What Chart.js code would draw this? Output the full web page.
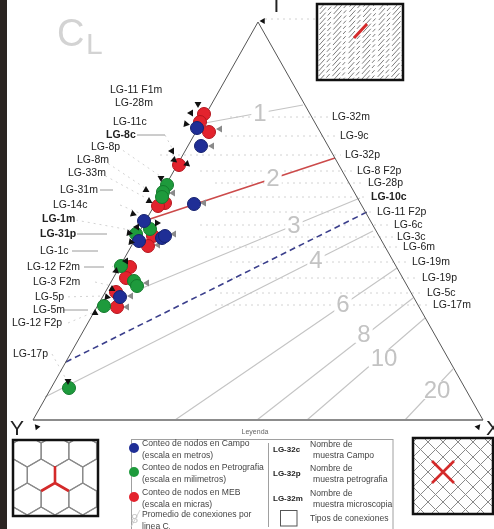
<!DOCTYPE html>
<html>
<head>
<meta charset="utf-8">
<script src="https://cdn.jsdelivr.net/npm/chart.js@4.4.1/dist/chart.umd.min.js"></script>
<style>
  html, body { margin: 0; padding: 0; background: #fff; overflow: hidden; }
  #wrap { position: relative; width: 494px; height: 529px; }
</style>
</head>
<body>
<div id="wrap"><canvas id="chart" width="494" height="529"></canvas></div>
<script>
// plot units follow the scanned figure (x to the right, y downwards)
const vertexY = [33, 420];
const vertexT = [258, 22];
const vertexX = [483, 420];

// node counts (Campo = blue, Petrografia = green, MEB = red)
const campoPts = [[197,128],[201,146],[194,204],[144,221],[162,238],[165,236],[139,241],[120,297]];
const petroPts = [[167,185],[163,192],[162,197],[150,229],[136,234],[121,266],[134,281],[137,286],[104,306],[69,388]];
const mebPts = [[204,114],[200,122],[209,132],[179,165],[165,203],[158,206],[153,236],[148,246],[130,267],[126,278],[116,292],[117,307]];

// arrow heads: [x, y, rotation]
const blackArrows = [[198,104,180],[191,113,150],[186,124,100],[172,151,150],[174,160,130],[187,164,250],[161,178,180],
  [146,190,120],[149,201,120],[133,214,110],[157,223,210],[137,227,150],[129,233,100],[131,242,100],[126,261,150],
  [116,271,130],[112,289,120],[107,297,100],[95,313,120],[68,381,180]];
const greyArrows = [[220,129],[212,146],[204,203],[173,193],[174,234],[158,245],[147,283],[131,296],[127,307]];

// C_L contour lines
const clLabels = ['1','2','3','4','6','8','10','20'];
const clStart = [[205,123],[144,221],[140,289],[45,397],[175,420],[257,420],[307,420],[405,420]];
const clEnd = [[303,105],[335,158],[360,198],[373,231],[397,268],[413,298],[425,318],[453,369]];
const clLabelPos = [[260,113],[273,178],[294,225],[316,260],[343,304],[364,334],[384,358],[437,390]];
const dashedLine = [[66,362],[367,212]];

// sample names
const leftNames = ['LG-11 F1m','LG-28m','LG-11c','LG-8c','LG-8p','LG-8m','LG-33m','LG-31m','LG-14c','LG-1m','LG-31p','LG-1c','LG-12 F2m','LG-3 F2m','LG-5p','LG-5m','LG-12 F2p','LG-17p'];
const leftNameX = [110,115,113,106,91,77,68,60,53,42,40,40,27,33,35,33,12,13];
const leftNameY = [90,103,122,135,147,160,173,190,205,219,234,251,267,282,297,310,323,354];
const rightNames = ['LG-32m','LG-9c','LG-32p','LG-8 F2p','LG-28p','LG-10c','LG-11 F2p','LG-6c','LG-3c','LG-6m','LG-19m','LG-19p','LG-5c','LG-17m'];
const rightNameX = [332,340,345,357,368,371,377,394,397,403,412,422,427,433];
const rightNameY = [117,136,155,171,183,197,212,225,237,247,262,278,293,305];
const rightLeadFrom = [230,225,160,200,215,230,225,200,205,215,230,215,220,215];
const boldNames = ['LG-8c','LG-1m','LG-31p','LG-10c'];

const legendItems = ['Conteo de nodos en Campo|(escala en metros)','Conteo de nodos en Petrografia|(escala en milimetros)','Conteo de nodos en MEB|(escala en micras)','Promedio de conexiones por|linea C'];
const legendNames = ['LG-32c','LG-32p','LG-32m'];
const legendNameText = ['Nombre de|muestra Campo','Nombre de|muestra petrografia','Nombre de|muestra microscopia'];

const FONT = '"Liberation Sans", Arial, sans-serif';
const xy = arr => arr.map(p => ({ x: p[0], y: p[1] }));
const seg = (a, b) => [{ x: a[0], y: a[1] }, { x: b[0], y: b[1] }];

const lineSets = clLabels.map((lab, i) => ({
  label: 'CL ' + lab,
  data: seg(clStart[i], clEnd[i]),
  showLine: true,
  borderColor: lab === '2' ? '#cc4a4a' : '#c4c4c4',
  borderWidth: lab === '2' ? 1.6 : 1.1,
  pointRadius: 0,
  order: 10
}));

const decor = {
  id: 'decor',
  beforeDatasetsDraw(chart) {
    const { ctx, scales: { x, y } } = chart;
    const X = v => x.getPixelForValue(v), Y = v => y.getPixelForValue(v);
    ctx.save();
    // dark strip of the scan on the left
    ctx.fillStyle = '#2b2522';
    ctx.fillRect(X(0), Y(0), X(7) - X(0), Y(529) - Y(0));

    // faint leader lines
    ctx.strokeStyle = '#d2d2d2';
    ctx.lineWidth = 1;
    ctx.setLineDash([2, 4]);
    rightNames.forEach((n, i) => {
      ctx.beginPath();
      ctx.moveTo(X(rightLeadFrom[i]), Y(rightNameY[i]));
      ctx.lineTo(X(rightNameX[i] - 4), Y(rightNameY[i]));
      ctx.stroke();
    });
    ctx.beginPath();
    ctx.moveTo(X(265), Y(19)); ctx.lineTo(X(316), Y(19));
    ctx.stroke();
    const diag = [[165,135,172,148],[118,147,160,176],[103,160,145,188],[100,173,146,198],[120,205,156,220],[70,219,130,230],
      [112,267,124,259],[95,282,112,286],[62,297,104,296],[68,323,94,312],[52,354,66,379]];
    diag.forEach(d => {
      ctx.beginPath(); ctx.moveTo(X(d[0]), Y(d[1])); ctx.lineTo(X(d[2]), Y(d[3])); ctx.stroke();
    });
    ctx.setLineDash([]);
    ctx.strokeStyle = '#9a9a9a';
    [[137,135,165,135],[100,190,113,190],[77,234,107,234],[72,251,98,251],[84,267,104,267],[63,310,88,310]].forEach(d => {
      ctx.beginPath(); ctx.moveTo(X(d[0]), Y(d[1])); ctx.lineTo(X(d[2]), Y(d[3])); ctx.stroke();
    });

    // inset top right: hatched fabric
    const b1 = [317, 4, 403, 80];
    ctx.save();
    ctx.beginPath(); ctx.rect(X(b1[0]), Y(b1[1]), X(b1[2]) - X(b1[0]), Y(b1[3]) - Y(b1[1])); ctx.clip();
    ctx.strokeStyle = '#6e6e6e'; ctx.lineWidth = 0.9;
    ctx.setLineDash([9, 3, 5, 4, 12, 3, 4, 5]);
    let n = 0;
    for (let k = -130; k < 130; k += 4.6) {
      ctx.lineDashOffset = (n++ * 7) % 45;
      ctx.beginPath();
      ctx.moveTo(X(360 + k - 60), Y(42 + 66));
      ctx.lineTo(X(360 + k + 60), Y(42 - 66));
      ctx.stroke();
    }
    ctx.restore();
    ctx.setLineDash([]);
    ctx.strokeStyle = '#111'; ctx.lineWidth = 2.5;
    ctx.strokeRect(X(b1[0]), Y(b1[1]), X(b1[2]) - X(b1[0]), Y(b1[3]) - Y(b1[1]));
    ctx.strokeStyle = '#d42a2a'; ctx.lineWidth = 3;
    ctx.beginPath(); ctx.moveTo(X(354), Y(38)); ctx.lineTo(X(367), Y(24)); ctx.stroke();

    // inset bottom left: hexagons
    const b2 = [13, 440, 98, 516];
    ctx.save();
    ctx.beginPath(); ctx.rect(X(b2[0]), Y(b2[1]), X(b2[2]) - X(b2[0]), Y(b2[3]) - Y(b2[1])); ctx.clip();
    ctx.strokeStyle = '#8a8a8a'; ctx.lineWidth = 1.2;
    const s = 16, w = s * Math.sqrt(3);
    for (let r = -3; r <= 3; r++) {
      for (let c = -3; c <= 3; c++) {
        const cx = 55 + c * w + (Math.abs(r) % 2 ? w / 2 : 0), cy = 499 + r * 1.5 * s;
        ctx.beginPath();
        for (let k = 0; k < 6; k++) {
          const a = (-90 + 60 * k) * Math.PI / 180;
          const px = X(cx + s * Math.cos(a)), py = Y(cy + s * Math.sin(a));
          k ? ctx.lineTo(px, py) : ctx.moveTo(px, py);
        }
        ctx.closePath(); ctx.stroke();
      }
    }
    ctx.strokeStyle = '#d42a2a'; ctx.lineWidth = 2.6;
    ctx.beginPath();
    ctx.moveTo(X(55), Y(466)); ctx.lineTo(X(55), Y(483));
    ctx.lineTo(X(55 - w / 2), Y(491)); ctx.moveTo(X(55), Y(483)); ctx.lineTo(X(55 + w / 2), Y(491));
    ctx.stroke();
    ctx.restore();
    ctx.strokeStyle = '#111'; ctx.lineWidth = 2.5;
    ctx.strokeRect(X(b2[0]), Y(b2[1]), X(b2[2]) - X(b2[0]), Y(b2[3]) - Y(b2[1]));

    // inset bottom right: crossing grid
    const b3 = [413, 438, 493, 514];
    ctx.save();
    ctx.beginPath(); ctx.rect(X(b3[0]), Y(b3[1]), X(b3[2]) - X(b3[0]), Y(b3[3]) - Y(b3[1])); ctx.clip();
    ctx.strokeStyle = '#8a8a8a'; ctx.lineWidth = 1;
    for (let k = -8; k <= 8; k++) {
      const o = 443 + k * 15;
      ctx.beginPath(); ctx.moveTo(X(o - 80), Y(472 - 80)); ctx.lineTo(X(o + 80), Y(472 + 80)); ctx.stroke();
      ctx.beginPath(); ctx.moveTo(X(o - 80), Y(472 + 80)); ctx.lineTo(X(o + 80), Y(472 - 80)); ctx.stroke();
    }
    ctx.strokeStyle = '#d42a2a'; ctx.lineWidth = 2.6;
    ctx.beginPath();
    ctx.moveTo(X(432), Y(461)); ctx.lineTo(X(454), Y(483));
    ctx.moveTo(X(454), Y(461)); ctx.lineTo(X(432), Y(483));
    ctx.stroke();
    ctx.restore();
    ctx.strokeStyle = '#111'; ctx.lineWidth = 2.5;
    ctx.strokeRect(X(b3[0]), Y(b3[1]), X(b3[2]) - X(b3[0]), Y(b3[3]) - Y(b3[1]));

    // legend frame
    ctx.strokeStyle = '#a0a0a0'; ctx.lineWidth = 1;
    ctx.strokeRect(X(131.5), Y(439.5), X(393) - X(131.5), Y(532) - Y(439.5));
    ctx.beginPath(); ctx.moveTo(X(268.5), Y(443)); ctx.lineTo(X(268.5), Y(527)); ctx.stroke();
    ctx.strokeStyle = '#555';
    ctx.strokeRect(X(280.5), Y(510.5), X(297) - X(280.5), Y(526) - Y(510.5));
    ctx.strokeStyle = '#d0d0d0';
    ctx.beginPath(); ctx.moveTo(X(131), Y(527)); ctx.lineTo(X(140), Y(510)); ctx.stroke();
    ctx.restore();
  },
  afterDatasetsDraw(chart) {
    const { ctx, scales: { x, y } } = chart;
    const X = v => x.getPixelForValue(v), Y = v => y.getPixelForValue(v);
    ctx.save();
    ctx.textBaseline = 'middle';

    // C_L values on the contour lines
    ctx.font = '24px ' + FONT;
    ctx.textAlign = 'center';
    clLabels.forEach((lab, i) => {
      const tw = ctx.measureText(lab).width;
      ctx.fillStyle = '#fff';
      ctx.fillRect(X(clLabelPos[i][0]) - tw / 2 - 2, Y(clLabelPos[i][1]) - 9, tw + 4, 18);
      ctx.fillStyle = '#c3c3c3';
      ctx.fillText(lab, X(clLabelPos[i][0]), Y(clLabelPos[i][1]) + 1);
    });

    // C_L title
    ctx.textAlign = 'left';
    ctx.fillStyle = '#d3d3d3';
    ctx.font = '38px ' + FONT;
    ctx.fillText('C', X(57), Y(36));
    ctx.font = '30px ' + FONT;
    ctx.fillText('L', X(86), Y(46));

    // vertex letters
    ctx.fillStyle = '#222';
    ctx.font = '21px ' + FONT;
    ctx.textBaseline = 'alphabetic';
    ctx.fillText('T', X(270), Y(12));
    ctx.fillText('Y', X(10), Y(435));
    ctx.fillText('X', X(486), Y(435));
    ctx.textBaseline = 'middle';

    // sample names
    const nameFont = n => (boldNames.includes(n) ? 'bold ' : '') + '10.5px ' + FONT;
    ctx.fillStyle = '#222';
    leftNames.forEach((n, i) => { ctx.font = nameFont(n); ctx.fillText(n, X(leftNameX[i]), Y(leftNameY[i])); });
    rightNames.forEach((n, i) => { ctx.font = nameFont(n); ctx.fillText(n, X(rightNameX[i]), Y(rightNameY[i])); });

    // legend
    ctx.fillStyle = '#666';
    ctx.font = '7px ' + FONT;
    ctx.textAlign = 'center';
    ctx.fillText('Leyenda', X(255), Y(432));
    ctx.textAlign = 'left';
    const dots = ['#1f2e96', '#1e9a3c', '#e3232d'];
    const rowY = [450, 474, 499, 521];
    ctx.font = '8.6px ' + FONT;
    legendItems.forEach((t, i) => {
      const parts = t.split('|');
      ctx.fillStyle = '#444';
      ctx.fillText(parts[0], X(142), Y(rowY[i] - 6));
      ctx.fillText(parts[1], X(142), Y(rowY[i] + 6));
      if (i < 3) {
        ctx.fillStyle = dots[i];
        ctx.beginPath(); ctx.arc(X(134), Y(rowY[i] - 2), 5, 0, Math.PI * 2); ctx.fill();
      }
    });
    const lw = ctx.measureText('linea C').width;
    ctx.font = '6px ' + FONT;
    ctx.fillStyle = '#444';
    ctx.fillText('L', X(142) + lw, Y(530));
    ctx.fillStyle = '#c8c8c8';
    ctx.font = '13px ' + FONT;
    ctx.fillText('8', X(131), Y(519));
    legendNames.forEach((n, i) => {
      const parts = legendNameText[i].split('|');
      ctx.fillStyle = '#222';
      ctx.font = 'bold 8px ' + FONT;
      ctx.fillText(n, X(273), Y(rowY[i] + 0));
      ctx.fillStyle = '#444';
      ctx.font = '8.6px ' + FONT;
      ctx.fillText(parts[0], X(310), Y(rowY[i] - 5));
      ctx.fillText(parts[1], X(313), Y(rowY[i] + 6));
    });
    ctx.fillText('Tipos de conexiones', X(310), Y(519));
    ctx.restore();
  }
};

new Chart(document.getElementById('chart'), {
  type: 'scatter',
  data: {
    datasets: [
      { label: 'Campo', data: xy(campoPts), pointRadius: 6.5, pointBackgroundColor: '#1f2e96', pointBorderColor: '#16226e', pointBorderWidth: 1, order: 2 },
      { label: 'Petrografia', data: xy(petroPts), pointRadius: 6.5, pointBackgroundColor: '#1e9a3c', pointBorderColor: '#137a2c', pointBorderWidth: 1, order: 3 },
      { label: 'MEB', data: xy(mebPts), pointRadius: 6.5, pointBackgroundColor: '#e3232d', pointBorderColor: '#b3161e', pointBorderWidth: 1, order: 4 },
      { label: 'flechas', data: xy(blackArrows), pointStyle: 'triangle', pointRadius: 4, pointRotation: blackArrows.map(a => a[2]), pointBackgroundColor: '#111', pointBorderWidth: 0, order: 1 },
      { label: 'flechas grises', data: xy(greyArrows), pointStyle: 'triangle', pointRadius: 4, pointRotation: 270, pointBackgroundColor: '#8a8a8a', pointBorderWidth: 0, order: 5 },
      { label: 'vertices', data: xy([[263,21],[37,427],[478,427]]), pointStyle: 'triangle', pointRadius: 3.5, pointRotation: [270, 320, 280], pointBackgroundColor: '#111', pointBorderWidth: 0, order: 1 },
      { label: 'dashed', data: seg(dashedLine[0], dashedLine[1]), showLine: true, borderColor: '#3b3f8c', borderWidth: 1.6, borderDash: [6, 4], pointRadius: 0, order: 9 },
      ...lineSets,
      { label: 'triangulo', data: xy([vertexY, vertexT, vertexX]), showLine: true, borderColor: '#555', borderWidth: 1, pointRadius: 0, order: 8 },
      { label: 'base', data: seg(vertexY, vertexX), showLine: true, borderColor: '#8c8c8c', borderWidth: 2, pointRadius: 0, order: 8 }
    ]
  },
  options: {
    responsive: false,
    animation: false,
    layout: { padding: 0, autoPadding: false },
    plugins: { legend: { display: false }, tooltip: { enabled: false } },
    scales: {
      x: { type: 'linear', min: 0, max: 494, display: false },
      y: { type: 'linear', min: 0, max: 529, reverse: true, display: false }
    }
  },
  plugins: [decor]
});
</script>
</body>
</html>
